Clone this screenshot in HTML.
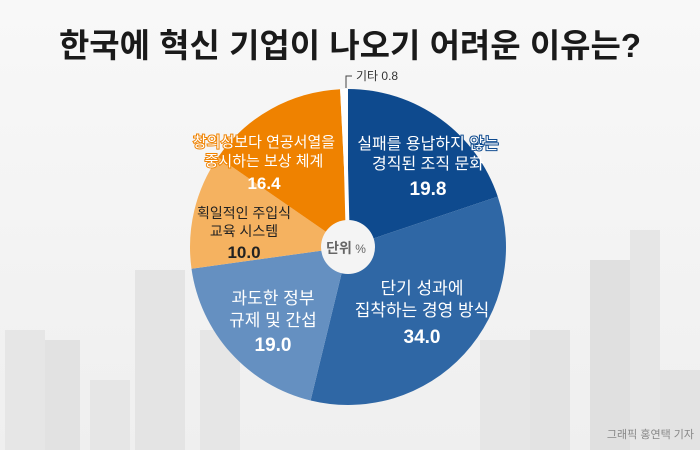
<!DOCTYPE html>
<html><head><meta charset="utf-8"><style>
html,body{margin:0;padding:0}
body{width:700px;height:450px;overflow:hidden;background:#f2f2f2;font-family:"Liberation Sans","Noto Sans CJK KR",sans-serif}
</style></head><body>
<svg width="700" height="450" viewBox="0 0 700 450" xmlns="http://www.w3.org/2000/svg" style="position:absolute;left:0;top:0">
<defs><linearGradient id="bg" x1="0" y1="0" x2="0" y2="1"><stop offset="0" stop-color="#f8f8f8"/><stop offset="1" stop-color="#efefef"/></linearGradient></defs>
<rect width="700" height="450" fill="url(#bg)"/>
<g fill="#e6e6e6">
<rect x="5" y="330" width="40" height="120"/><rect x="45" y="340" width="35" height="110" fill="#e2e2e2"/>
<rect x="90" y="380" width="40" height="70"/><rect x="135" y="270" width="50" height="180" fill="#e4e4e4"/>
<rect x="200" y="330" width="40" height="120"/>
<rect x="480" y="340" width="50" height="110"/><rect x="530" y="330" width="40" height="120" fill="#e3e3e3"/>
<rect x="590" y="260" width="40" height="190" fill="#e0e0e0"/><rect x="630" y="230" width="30" height="220"/>
<rect x="660" y="370" width="40" height="80" fill="#e3e3e3"/>
</g>
<text x="350" y="57" text-anchor="middle" font-size="33" font-weight="bold" fill="#1a1a1a">한국에 혁신 기업이 나오기 어려운 이유는?</text>
<g transform="translate(348,247)">
<path d="M0,0 L0,-158 A158,158 0 0 1 149.77,-50.34 Z" fill="#0e4a8e"/>
<path d="M0,0 L149.77,-50.34 A158,158 0 0 1 -37.4,153.5 Z" fill="#2f67a5"/>
<path d="M0,0 L-37.4,153.5 A158,158 0 0 1 -156.5,21.7 Z" fill="#6590c1"/>
<path d="M0,0 L-156.5,21.7 A158,158 0 0 1 -129.9,-89.9 Z" fill="#f5b260"/>
<path d="M0,0 L-129.9,-89.9 A158,158 0 0 1 -7.9,-157.8 Z" fill="#ef8200"/>
<path d="M0,0 L-7.9,-157.8 A158,158 0 0 1 0,-158 Z" fill="#ffffff"/>
<line x1="0" y1="0" x2="-4" y2="-158" stroke="#fff" stroke-width="4"/>
<circle r="27" fill="#f4f4f4"/>
</g>
<path d="M346,88 V76 H352" stroke="#444" fill="none" stroke-width="1"/>
<text x="356" y="80" font-size="12" fill="#333">기타 0.8</text>
<text x="346" y="253" text-anchor="middle" font-size="14" font-weight="bold" fill="#666">단위<tspan font-weight="normal" font-size="12"> %</tspan></text>
<g font-size="16" text-anchor="middle" fill="#fff">
<text x="428" y="149" stroke="#0e4a8e" stroke-width="2" paint-order="stroke">실패를 용납하지 않는</text>
<text x="428" y="169">경직된 조직 문화</text>
<text x="428" y="195" font-size="19" font-weight="bold">19.8</text>
<text x="422" y="294" font-size="17">단기 성과에</text>
<text x="422" y="316" font-size="17">집착하는 경영 방식</text>
<text x="422" y="343" font-size="19" font-weight="bold">34.0</text>
<text x="273" y="304" font-size="17">과도한 정부</text>
<text x="273" y="326" font-size="17">규제 및 간섭</text>
<text x="273" y="351" font-size="19" font-weight="bold">19.0</text>
<text x="264" y="147" font-size="15" stroke="#ef8200" stroke-width="2" paint-order="stroke">창의성보다 연공서열을</text>
<text x="264" y="166" font-size="15" stroke="#ef8200" stroke-width="2" paint-order="stroke">중시하는 보상 체계</text>
<text x="264" y="189" font-size="17" font-weight="bold">16.4</text>
</g>
<g font-size="14" text-anchor="middle" fill="#222">
<text x="244" y="218">획일적인 주입식</text>
<text x="244" y="236">교육 시스템</text>
<text x="244" y="258" font-size="17" font-weight="bold">10.0</text>
</g>
<text x="694" y="438" text-anchor="end" font-size="11" fill="#888">그래픽 홍연택 기자</text>
</svg>
</body></html>
